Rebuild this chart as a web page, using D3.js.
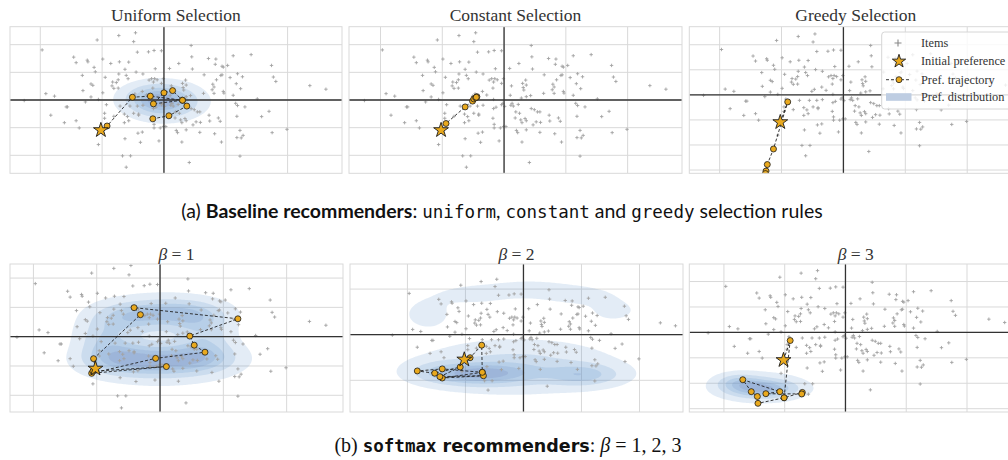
<!DOCTYPE html>
<html>
<head>
<meta charset="utf-8">
<script src="https://cdn.jsdelivr.net/npm/d3@7"></script>
<style>
  body { margin: 0; background: #fff; }
  svg { display: block; }
</style>
</head>
<body>
<svg id="fig" width="1008" height="460"></svg>
<script>
// item embeddings (same set in every panel)
var items = [
  [-0.46,2.43],[-0.73,2.33],[-0.49,2.11],[-1.08,2.17],[-1.97,1.81],[-0.43,1.73],[-0.25,1.74],[-0.16,1.79],
  [-0.04,1.78],[-1.46,1.55],[-1.42,1.35],[-1.24,1.44],[-1.23,1.38],[-0.99,1.48],[-0.86,1.32],[-0.72,1.38],
  [-0.57,1.37],[-1.13,1.18],[-1.11,1.02],[-0.63,1.11],[-0.14,1.13],[-1.32,0.89],[-0.95,0.82],[-0.73,0.94],
  [-0.61,0.89],[-0.58,0.77],[-0.45,1.01],[-0.34,0.94],[-0.24,0.72],[-0.20,0.77],[-0.15,0.77],[-0.11,0.73],
  [-0.01,0.77],[-0.17,0.65],[-0.04,0.60],[-0.83,0.65],[-0.77,0.63],[-0.84,0.51],[-0.81,0.42],[-0.74,0.43],
  [-0.74,0.73],[-0.18,0.43],[-1.18,0.58],[-1.15,0.53],[-1.31,0.34],[-0.99,0.26],[-0.35,0.31],[-1.91,0.23],
  [-1.77,0.14],[-1.18,0.11],[-1.06,0.02],[-1.27,-0.07],[-0.47,0.22],[-0.51,0.14],[-0.28,0.18],[-0.17,0.02],
  [-2.26,-0.02],[-0.93,-0.17],[-1.58,-0.25],[-1.56,-0.25],[-0.71,-0.22],[-0.55,-0.22],[-0.43,-0.22],[-0.34,-0.19],
  [-0.17,-0.31],[-0.13,-0.26],[-0.04,-0.17],[-0.02,-0.12],[0.01,-0.23],[-1.83,-0.55],[-0.96,-0.48],[-0.49,-0.48],
  [-0.41,-0.51],[-0.41,-0.55],[-0.64,-0.51],[-0.18,-0.66],[-1.61,-0.82],[-1.42,-0.75],[-0.96,-0.66],[-0.81,-0.59],
  [-0.64,-0.82],[-0.59,-0.60],[-0.57,-0.75],[-0.16,-0.88],[-1.37,-1.01],[-0.16,-1.01],[-0.01,-0.96],[0.03,-0.96],
  [-0.06,-1.01],[-0.42,-1.20],[-0.35,-1.16],[-0.63,-1.40],[-0.38,-1.53],[-0.08,-1.48],[-1.06,-1.61],[-0.67,-2.02],
  [-0.54,-2.02],[-0.61,-2.43],
  [0.44,1.97],[0.45,1.56],[0.24,1.32],[0.09,1.14],[0.46,1.12],[0.72,1.50],[0.84,1.48],[0.83,1.29],
  [0.94,1.22],[0.96,1.19],[1.03,1.25],[1.12,1.60],[1.41,1.64],[1.74,1.25],[0.65,0.91],[0.92,0.89],
  [0.94,0.91],[1.19,0.95],[1.27,0.84],[1.07,0.81],[0.85,0.73],[0.12,0.51],[0.35,0.72],[0.30,0.60],
  [0.36,0.54],[0.31,0.45],[0.32,0.36],[0.79,0.57],[0.81,0.47],[0.78,0.37],[1.77,0.83],[1.81,0.67],
  [2.36,0.52],[2.62,0.39],[0.10,0.17],[0.28,0.07],[0.36,0.12],[0.43,0.16],[0.64,0.24],[0.81,0.24],
  [0.96,0.31],[0.97,0.25],[1.12,0.17],[1.17,0.59],[1.24,0.41],[1.51,0.04],[0.13,-0.12],[0.11,-0.19],
  [0.15,-0.22],[0.23,-0.16],[0.44,-0.31],[0.49,-0.35],[0.54,-0.43],[0.58,-0.43],[0.19,-0.43],[0.25,-0.48],
  [0.18,-0.65],[0.27,-0.72],[0.29,-0.82],[0.34,-0.67],[0.36,-0.75],[0.52,-0.79],[0.59,-0.81],[0.47,-0.90],
  [0.73,-0.55],[0.74,-0.76],[0.88,-0.65],[0.91,-0.77],[1.16,-0.12],[1.19,-0.20],[1.31,-0.25],[1.18,-0.59],
  [1.58,-0.60],[1.70,-0.41],[0.20,-1.10],[0.22,-1.18],[0.36,-1.08],[0.58,-1.17],[0.82,-1.22],[1.23,-1.10],
  [1.18,-1.36],[1.25,-1.37],[1.28,-1.28],[1.75,-1.18],[1.99,-1.06],[0.29,-1.52],[0.93,-1.52],[1.23,-2.03],
  [0.41,-2.26]
];

var initialPref = [-1.02, -1.09];

// preference trajectories (after the initial preference)
var trajUniform  = [[-0.92,-0.94],[-0.51,0.10],[-0.22,0.14],[0.30,-0.01],[0.14,0.34],[0.00,0.26],[-0.17,-0.14],[0.30,-0.01],[0.37,-0.22],[0.08,-0.57],[-0.18,-0.68]];
var trajConstant = [[-0.94,-0.85],[-0.63,-0.25],[-0.51,-0.04],[-0.49,0.04],[-0.46,0.08],[-0.44,0.12],[-0.45,0.10]];
var trajGreedy   = [[-0.90,-0.28],[-1.13,-2.16],[-1.23,-2.78],[-1.25,-3.04],[-1.26,-3.14]];
var trajBeta1    = [[-1.05,-0.75],[-0.31,0.75],[-0.41,0.99],[1.23,0.61],[0.47,0.02],[0.54,-0.29],[0.71,-0.53],[-0.07,-0.74],[-1.08,-1.25],[0.10,-1.02],[-1.06,-1.18]];
var trajBeta2    = [[-0.92,-1.01],[-0.72,-0.46],[-0.71,-1.65],[-1.40,-1.90],[-0.69,-1.80],[-1.44,-1.84],[-1.09,-1.42],[-1.53,-1.69],[-1.83,-1.59],[-1.40,-1.50],[-0.71,-1.65]];
var trajBeta3    = [[-0.91,-0.32],[-1.01,-2.57],[-0.71,-2.36],[-0.72,-2.42],[-1.31,-2.41],[-1.08,-2.33],[-1.69,-1.86],[-1.55,-2.33],[-1.45,-2.52],[-1.44,-2.79],[-1.01,-2.57]];

// preference distribution, as gaussian bumps [cx, cy, sx, sy, weight]
var densUniform = [[0.0,-0.05,0.32,0.34,1.0],[-0.2,0.1,0.28,0.3,0.3]];
var densConstant = [];
var densGreedy = [];
var densBeta1 = [
  [0.0,-0.85,0.55,0.32,1.0],[-0.65,-0.7,0.33,0.32,0.6],[0.65,-0.65,0.33,0.32,0.55],
  [0.15,0.82,0.45,0.28,0.75],[-0.5,0.65,0.33,0.3,0.5],[-0.85,-0.05,0.26,0.45,0.45],
  [0.72,0.05,0.25,0.42,0.3],[0.55,0.6,0.28,0.3,0.35],[0.0,-0.1,0.65,0.95,0.12]
];
var densBeta2 = [
  [-0.9,-1.72,0.45,0.3,0.8],[-0.3,-1.7,0.45,0.3,0.4],[1.0,-1.75,0.4,0.3,0.6],
  [-1.5,-1.6,0.32,0.3,0.25],[-0.1,-1.4,0.92,0.65,0.35],
  [-1.65,0.9,0.3,0.5,0.11],[-0.9,1.75,0.45,0.3,0.1],[0.1,2.0,0.55,0.3,0.11],
  [1.0,1.7,0.45,0.3,0.1],[1.55,1.05,0.3,0.35,0.1]
];
var densBeta3 = [[-1.4,-2.2,0.34,0.22,1.0],[-1.75,-1.95,0.22,0.2,0.45],[-1.38,-2.15,0.45,0.38,0.15]];
var densLevels = [0.05, 0.2, 0.4, 0.6, 0.8];
var densColors = ["#5b8fc7", "#5b8fc7", "#5b8fc7", "#5f82bf", "#6874b2"];

var xTicks = [-2,-1,0,1,2];
var yTicksA = [-2,-1,0,1,2];
var yTicksG = [-3,-2,-1,0,1,2];
var yTicksB2 = [-2,0,2];

var titlesA = ["Uniform Selection", "Constant Selection", "Greedy Selection"];
var betas = [1, 2, 3];

var gold = "#e9a91e";
var svg = d3.select("#fig");
svg.append("rect").attr("width", 1008).attr("height", 460).attr("fill", "#fff");

var panels = [
  {title: titlesA[0], traj: trajUniform,  dens: densUniform,  xd: [-2.49,2.88], yd: [-2.65,2.65], yt: yTicksA,  x: 10,    y: 26.7, w: 332, h: 146.6},
  {title: titlesA[1], traj: trajConstant, dens: densConstant, xd: [-2.51,2.88], yd: [-2.65,2.65], yt: yTicksA,  x: 349,   y: 26.7, w: 333, h: 146.6},
  {title: titlesA[2], traj: trajGreedy,   dens: densGreedy,   xd: [-2.49,2.89], yd: [-3.13,2.72], yt: yTicksG,  x: 689.3, y: 26.7, w: 333, h: 146.6},
  {beta: betas[0], traj: trajBeta1, dens: densBeta1, xd: [-2.37,2.89], yd: [-2.57,2.48], yt: yTicksA,  x: 10,    y: 264, w: 333, h: 148},
  {beta: betas[1], traj: trajBeta2, dens: densBeta2, xd: [-2.99,2.75], yd: [-3.39,3.10], yt: yTicksB2, x: 350,   y: 264, w: 333, h: 148},
  {beta: betas[2], traj: trajBeta3, dens: densBeta3, xd: [-2.57,2.91], yd: [-3.13,2.69], yt: yTicksG,  x: 689.3, y: 264, w: 333, h: 148}
];

var star = d3.symbol().type(d3.symbolStar).size(68);
var cross = "M-1.7,0H1.7M0,-1.7V1.7";

panels.forEach(function(p, k) {
  var x = d3.scaleLinear().domain(p.xd).range([p.x, p.x + p.w]);
  var y = d3.scaleLinear().domain(p.yd).range([p.y + p.h, p.y]);

  var clipId = "clip" + k;
  svg.append("clipPath").attr("id", clipId)
    .append("rect").attr("x", p.x).attr("y", p.y).attr("width", p.w).attr("height", p.h);

  var g = svg.append("g").attr("clip-path", "url(#" + clipId + ")");

  // grid
  g.selectAll(".gx").data(xTicks).enter().append("line")
    .attr("x1", function(d) { return x(d); }).attr("x2", function(d) { return x(d); })
    .attr("y1", p.y).attr("y2", p.y + p.h)
    .attr("stroke", "#d9d9d9").attr("stroke-width", 1);
  g.selectAll(".gy").data(p.yt).enter().append("line")
    .attr("y1", function(d) { return y(d); }).attr("y2", function(d) { return y(d); })
    .attr("x1", p.x).attr("x2", p.x + p.w)
    .attr("stroke", "#d9d9d9").attr("stroke-width", 1);

  // density
  if (p.dens.length) {
    var nx = 200, ny = 110;
    var vals = new Float64Array(nx * ny), vmax = 0;
    for (var j = 0; j < ny; j++) {
      for (var i = 0; i < nx; i++) {
        var dx = p.xd[0] + (i + 0.5) * (p.xd[1] - p.xd[0]) / nx;
        var dy = p.yd[1] - (j + 0.5) * (p.yd[1] - p.yd[0]) / ny;
        var s = 0;
        p.dens.forEach(function(c) {
          var u = (dx - c[0]) / c[2], v = (dy - c[1]) / c[3];
          s += c[4] * Math.exp(-0.5 * (u * u + v * v));
        });
        vals[j * nx + i] = s;
        if (s > vmax) vmax = s;
      }
    }
    var contours = d3.contours().size([nx, ny])
      .thresholds(densLevels.map(function(l) { return l * vmax; }))(vals);
    var proj = d3.geoTransform({point: function(px, py) {
      this.stream.point(x(p.xd[0] + px * (p.xd[1] - p.xd[0]) / nx),
                        y(p.yd[1] - py * (p.yd[1] - p.yd[0]) / ny));
    }});
    g.selectAll(".dens").data(contours).enter().append("path")
      .attr("d", d3.geoPath(proj))
      .attr("fill", function(d, i) { return densColors[i]; }).attr("fill-opacity", 0.17);
  }

  // items
  g.selectAll(".item").data(items).enter().append("path")
    .attr("transform", function(d) { return "translate(" + x(d[0]) + "," + y(d[1]) + ")"; })
    .attr("d", cross).attr("stroke", "#a3a3a3").attr("stroke-width", 0.9).attr("fill", "none");

  // zero axes
  g.append("line").attr("x1", x(0)).attr("x2", x(0)).attr("y1", p.y).attr("y2", p.y + p.h)
    .attr("stroke", "#333").attr("stroke-width", 1.3);
  g.append("line").attr("y1", y(0)).attr("y2", y(0)).attr("x1", p.x).attr("x2", p.x + p.w)
    .attr("stroke", "#333").attr("stroke-width", 1.3);

  // trajectory
  var pts = [initialPref].concat(p.traj);
  g.append("path").datum(pts)
    .attr("d", d3.line().x(function(d) { return x(d[0]); }).y(function(d) { return y(d[1]); }))
    .attr("fill", "none").attr("stroke", "#222").attr("stroke-width", 0.9)
    .attr("stroke-dasharray", "3,2");
  g.selectAll(".pt").data(p.traj).enter().append("circle")
    .attr("cx", function(d) { return x(d[0]); }).attr("cy", function(d) { return y(d[1]); })
    .attr("r", 3).attr("fill", gold).attr("stroke", "#1a1a1a").attr("stroke-width", 0.8);
  g.append("path").attr("d", star)
    .attr("transform", "translate(" + x(initialPref[0]) + "," + y(initialPref[1]) + ")")
    .attr("fill", gold).attr("stroke", "#1a1a1a").attr("stroke-width", 0.9);

  // frame
  svg.append("rect").attr("x", p.x).attr("y", p.y).attr("width", p.w).attr("height", p.h)
    .attr("fill", "none").attr("stroke", "#d9d9d9").attr("stroke-width", 1);

  // title
  var cx = p.x + p.w / 2;
  if (p.title) {
    svg.append("text").attr("x", cx).attr("y", 21).attr("text-anchor", "middle")
      .style("font-family", "'Liberation Serif', serif").style("font-size", "17.5px")
      .attr("fill", "#333").text(p.title);
  } else {
    var t = svg.append("text").attr("x", cx).attr("y", 259.5).attr("text-anchor", "middle")
      .style("font-family", "'Liberation Serif', serif").style("font-size", "17.5px").attr("fill", "#333");
    t.append("tspan").style("font-style", "italic").text("\u03B2");
    t.append("tspan").text(" = " + p.beta);
  }
});

// legend in the greedy panel
var lg = svg.append("g");
lg.append("rect").attr("x", 881.7).attr("y", 32).attr("width", 140).attr("height", 77).attr("rx", 3)
  .attr("fill", "#fff").attr("fill-opacity", 0.82).attr("stroke", "#d6d6d6").attr("stroke-width", 1);
var legendLabels = ["Items", "Initial preference", "Pref. trajectory", "Pref. distribution"];
var ly = [43, 61.3, 79.7, 97];
lg.selectAll(".lt").data(legendLabels).enter().append("text")
  .attr("x", 921).attr("y", function(d, i) { return ly[i] + 4; })
  .style("font-family", "'Liberation Serif', serif").style("font-size", "12.3px")
  .attr("fill", "#333").text(function(d) { return d; });
lg.append("path").attr("d", "M-3.5,0H3.5M0,-3.5V3.5").attr("transform", "translate(898,43)")
  .attr("stroke", "#888").attr("stroke-width", 1.1);
lg.append("path").attr("d", d3.symbol().type(d3.symbolStar).size(55)).attr("transform", "translate(899,61.3)")
  .attr("fill", gold).attr("stroke", "#1a1a1a").attr("stroke-width", 0.9);
lg.append("line").attr("x1", 886).attr("x2", 911).attr("y1", 79.7).attr("y2", 79.7)
  .attr("stroke", "#222").attr("stroke-width", 0.9).attr("stroke-dasharray", "3,2");
lg.append("circle").attr("cx", 899).attr("cy", 79.7).attr("r", 3)
  .attr("fill", gold).attr("stroke", "#1a1a1a").attr("stroke-width", 0.8);
lg.append("rect").attr("x", 886).attr("y", 93.2).attr("width", 25.5).attr("height", 7.6)
  .attr("fill", "#becde2");

// captions
var capA = svg.append("text").attr("x", 502).attr("y", 218).attr("text-anchor", "middle")
  .style("font-family", "Lato, 'Open Sans', sans-serif").style("font-size", "19.5px").attr("fill", "#111");
capA.append("tspan").text("(a) ");
capA.append("tspan").style("font-weight", "bold").text("Baseline recommenders");
capA.append("tspan").text(": ");
capA.append("tspan").style("font-family", "'DejaVu Sans Mono', monospace").style("font-size", "17.5px").text("uniform");
capA.append("tspan").text(", ");
capA.append("tspan").style("font-family", "'DejaVu Sans Mono', monospace").style("font-size", "17.5px").text("constant");
capA.append("tspan").text(" and ");
capA.append("tspan").style("font-family", "'DejaVu Sans Mono', monospace").style("font-size", "17.5px").text("greedy");
capA.append("tspan").text(" selection rules");

var capB = svg.append("text").attr("x", 508).attr("y", 452).attr("text-anchor", "middle")
  .style("font-family", "'Liberation Serif', serif").style("font-size", "20px").attr("fill", "#111");
capB.append("tspan").text("(b) ");
capB.append("tspan").style("font-family", "'DejaVu Sans Mono', monospace").style("font-weight", "bold").style("font-size", "17.5px").text("softmax");
capB.append("tspan").style("font-family", "'DejaVu Sans', sans-serif").style("font-weight", "bold").style("font-size", "17.5px").text(" recommenders");
capB.append("tspan").text(": ");
capB.append("tspan").style("font-style", "italic").text("\u03B2");
capB.append("tspan").text(" = 1, 2, 3");
</script>
</body>
</html>
